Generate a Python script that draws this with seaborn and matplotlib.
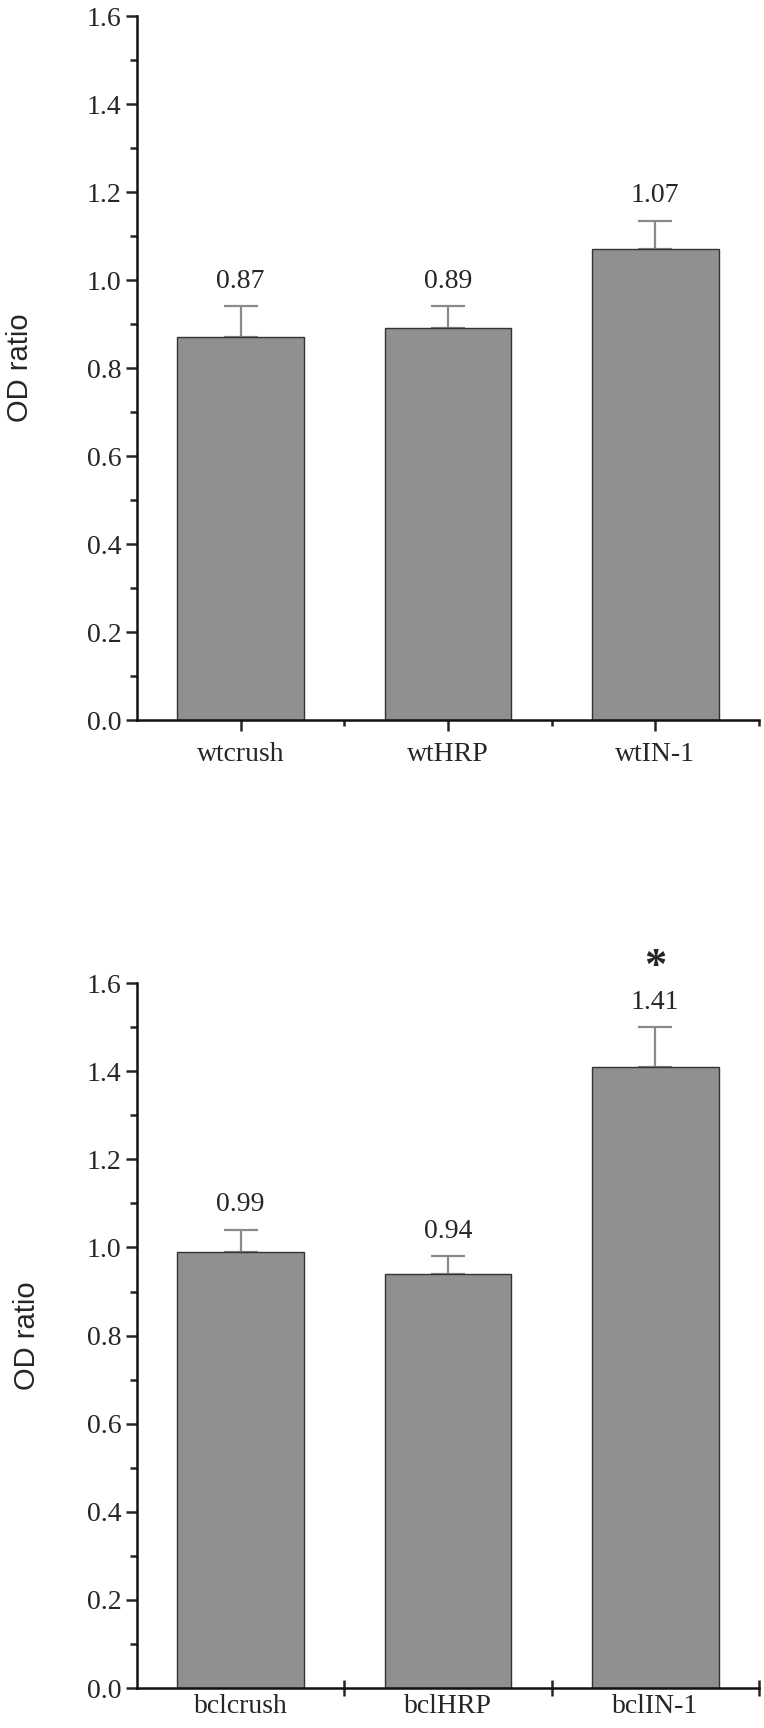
import numpy as np
import matplotlib
matplotlib.use("Agg")
import matplotlib.pyplot as plt
import seaborn as sns

sns.set_style("ticks")
plt.rcParams['font.family'] = ['Liberation Serif', 'DejaVu Serif']

# datos
top_groups = ["wtcrush", "wtHRP", "wtIN-1"]
top_means = [0.87, 0.89, 1.07]
top_err = [0.07, 0.05, 0.065]

bot_groups = ["bclcrush", "bclHRP", "bclIN-1"]
bot_means = [0.99, 0.94, 1.41]
bot_err = [0.05, 0.04, 0.09]
bot_marks = ["", "", "*"]

y_ticks = [0.0, 0.2, 0.4, 0.6, 0.8, 1.0, 1.2, 1.4, 1.6]

bar_color = "#909090"
err_color = "#8a8a8a"

fig = plt.figure(figsize=(7.64, 17.28), dpi=100)
ax1 = fig.add_axes([0.1793, 0.5833, 0.8141, 0.4074])
ax2 = fig.add_axes([0.1793, 0.0231, 0.8141, 0.4080])


def panel(ax, groups, means, err, label_x, center_ticks):
    sns.barplot(x=groups, y=means, color=bar_color, width=0.61, errorbar=None,
                edgecolor="#333333", linewidth=1.0, saturation=1, ax=ax, zorder=2)
    xs = np.arange(len(groups))
    ax.errorbar(xs, means, yerr=[np.zeros(len(err)), err], fmt="none",
                ecolor=err_color, elinewidth=1.6, capsize=12, capthick=1.6, zorder=1)
    for x, m, e in zip(xs, means, err):
        ax.annotate(f"{m:.2f}", (x, m + e), xytext=(0, 9), textcoords="offset points",
                    ha="center", va="bottom", fontsize=20)
    ax.set_xlim(-0.5, 2.5)
    ax.set_ylim(0, 1.6)
    ax.set_yticks(y_ticks)
    ax.set_yticklabels([f"{t:.1f}" for t in y_ticks], fontsize=20)
    ax.set_yticks(np.arange(0.1, 1.6, 0.2), minor=True)
    ax.tick_params(axis="y", which="major", direction="out", length=8, width=1.8, pad=3)
    ax.tick_params(axis="y", which="minor", direction="out", length=5, width=1.8)
    ax.set_xticks(xs)
    ax.set_xticklabels(groups, fontsize=20)
    ax.set_xticks([0.5, 1.5, 2.5], minor=True)
    if center_ticks:
        ax.tick_params(axis="x", which="major", direction="out", length=8, width=1.8, pad=8)
        ax.tick_params(axis="x", which="minor", direction="out", length=4, width=1.8)
    else:
        ax.tick_params(axis="x", which="major", length=0, pad=4)
        ax.tick_params(axis="x", which="minor", direction="inout", length=12, width=1.8)
    sns.despine(ax=ax)
    for s in ["left", "bottom"]:
        ax.spines[s].set_linewidth(1.8)
        ax.spines[s].set_color("#111111")
    ax.set_xlabel("")
    ax.set_ylabel("OD ratio", family=["Liberation Sans", "DejaVu Sans"], fontsize=21)
    ax.yaxis.set_label_coords(label_x, 0.5)


panel(ax1, top_groups, top_means, top_err, -0.165, True)
panel(ax2, bot_groups, bot_means, bot_err, -0.155, False)

# asterisco de significancia
for x, m, e, s in zip(range(3), bot_means, bot_err, bot_marks):
    if s:
        ax2.annotate(s, (x, m + e), xytext=(0, 29), textcoords="offset points",
                     ha="center", va="bottom", fontsize=32, fontweight="bold")

fig.savefig("out.png", dpi=100, facecolor="white")
